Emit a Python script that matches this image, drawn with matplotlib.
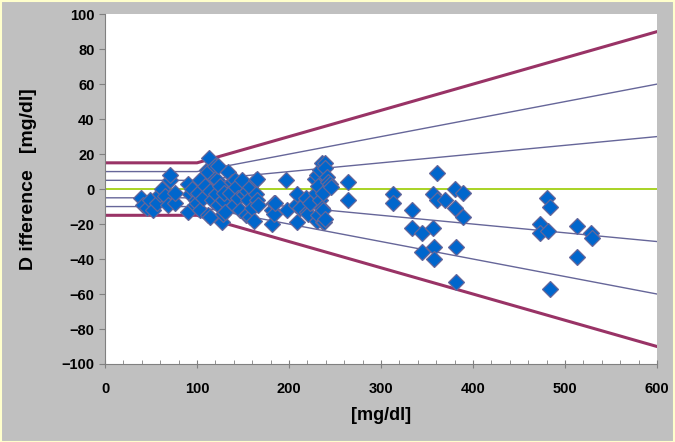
import matplotlib.pyplot as plt
from matplotlib.ticker import MultipleLocator

plt.rcParams['font.family'] = ['Liberation Sans', 'DejaVu Sans']

# reference value [mg/dl] and difference [mg/dl]
ref_x = [39, 41, 46, 49, 52, 57, 60, 62, 65, 68, 71, 71, 76, 76,
         90, 90, 92, 95, 98, 99, 100, 101, 103, 103, 107, 109, 111, 112, 112, 113,
         114, 114, 116, 120, 120, 121, 122, 123, 123, 125, 127, 128, 128, 129, 130,
         134, 136, 138, 140, 141, 142, 145, 147, 149, 151, 153, 154, 155, 158, 158,
         160, 162, 164, 164, 165, 165, 166,
         181, 181, 184, 184, 185, 197, 198, 208, 209, 209, 212, 218, 220, 221, 223,
         228, 229, 230, 230, 231, 232, 234, 234, 236, 236, 237, 237, 237, 238, 239,
         239, 239, 241, 242, 245, 246, 264, 264,
         313, 313, 334, 334, 345, 345, 356, 356, 358, 358, 361, 361, 370,
         380, 380, 382, 382, 389, 389,
         473, 473, 480, 482, 484, 484, 513, 513, 528, 529]
diff = [-5, -9, -11, -6, -12, -8, -3, 0, -4, -9, 5, 8, -8, -2,
        3, -13, -3, 0, -9, -6, -8, -2, 5, -12, -5, 2, 11, 10, -15, 18,
        -1, -16, -6, 13, 6, -3, 5, -9, 13, 2, -19, -6, -14, -2, -13,
        10, -2, 4, -9, 5, 1, -5, -12, 5, -3, -15, -1, -6, 1, -16,
        -11, -18, 5, -3, 6, -6, -9,
        -12, -20, -8, -14, -8, 5, -12, -9, -3, -19, -11, -5, -13, -14, -8,
        6, -2, 8, -18, -15, 2, 11, -6, 15, -11, -2, -12, -19, -19, 15,
        12, -17, 7, 4, 3, 1, 4, -6,
        -3, -8, -12, -22, -25, -36, -3, -22, -33, -40, 9, -6, -6,
        0, -11, -33, -53, -2, -16,
        -20, -25, -5, -24, -10, -57, -21, -39, -25, -28]

# error-grid limits: constant below 100 mg/dl, percent of value above
grid_x = [0, 100, 600]
pct_limits = [15, 10, 5]

fig = plt.figure(figsize=(6.75, 4.42), dpi=100, facecolor='#c0c0c0')
ax = fig.add_axes([0.1556, 0.1765, 0.8177, 0.7915])
ax.set_facecolor('white')

for p in pct_limits:
    up = [p, p, p * 6]
    lw = 2.2 if p == 15 else 1.0
    col = '#993366' if p == 15 else '#666699'
    ax.plot(grid_x, up, color=col, lw=lw, zorder=2)
    ax.plot(grid_x, [-v for v in up], color=col, lw=lw, zorder=2)
ax.axhline(0, color='#99cc00', lw=1.2, zorder=1)

ax.plot(ref_x, diff, 'D', ms=8, mfc='#0066cc', mec='#666699', mew=0.9, zorder=3)

ax.set_xlim(0, 600)
ax.set_ylim(-100, 100)
ax.xaxis.set_major_locator(MultipleLocator(100))
ax.xaxis.set_minor_locator(MultipleLocator(20))
ax.yaxis.set_major_locator(MultipleLocator(20))
for s in ['top', 'right']:
    ax.spines[s].set_visible(False)
for s in ['left', 'bottom']:
    ax.spines[s].set_color('#808080')
ax.tick_params(colors='#808080', labelcolor='black', length=4, width=0.8)
ax.tick_params(axis='x', direction='inout', length=6, pad=10)
ax.tick_params(axis='x', which='minor', colors='#808080', direction='in', length=3)
for lab in ax.get_xticklabels() + ax.get_yticklabels():
    lab.set_fontweight('bold')
    lab.set_fontsize(10.5)

ax.set_xlabel('[mg/dl]', fontsize=13, fontweight='bold', labelpad=8)
fig.text(0.042, 0.595, 'D ifference   [mg/dl]', rotation=90, fontsize=14,
         fontweight='bold', ha='center', va='center')

# thin light frame round the chart area
fig.patches.append(plt.Rectangle((0.001, 0.001), 0.998, 0.997, transform=fig.transFigure,
                                 fill=False, ec='#ffffcc', lw=1.5))

fig.savefig('out.png', dpi=100, facecolor=fig.get_facecolor())
